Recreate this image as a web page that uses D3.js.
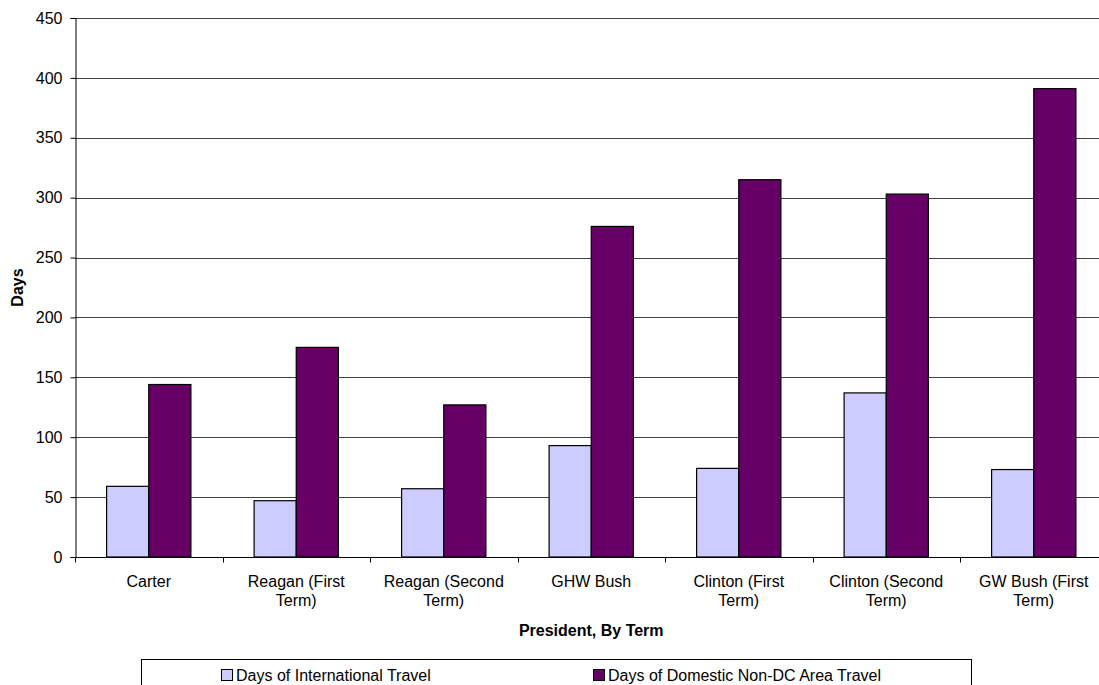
<!DOCTYPE html>
<html><head><meta charset="utf-8">
<script src="https://cdn.jsdelivr.net/npm/d3@7"></script>
<style>body{margin:0;background:#fff;}svg{display:block;font-family:"Liberation Sans",Arial,sans-serif;}</style>
</head><body>
<svg id="c" width="1099" height="685"></svg>
<script>
const categories = [["Carter"],["Reagan (First","Term)"],["Reagan (Second","Term)"],["GHW Bush"],["Clinton (First","Term)"],["Clinton (Second","Term)"],["GW Bush (First","Term)"]];
const international = [59, 47, 57, 93, 74, 137, 73];
const domestic = [144, 175, 127, 276, 315, 303, 391];
const seriesNames = ["Days of International Travel", "Days of Domestic Non-DC Area Travel"];
const colors = ["#ccccff", "#660066"];
const yTicks = [0,50,100,150,200,250,300,350,400,450];

const svg = d3.select("#c");
const L = 75, R = 1107.5, T = 18, B = 557;
const idx = d3.range(categories.length);
const x = d3.scaleBand().domain(idx).range([L, R]).paddingInner(0).paddingOuter(0);
const y = d3.scaleLinear().domain([0, 450]).range([B, T]);
const bw = x.bandwidth() / 3.5;

// gridlines
svg.append("g").selectAll("line").data(yTicks.filter(d=>d>0)).join("line")
  .attr("x1", L).attr("x2", R).attr("y1", d=>Math.round(y(d))+0.5).attr("y2", d=>Math.round(y(d))+0.5)
  .attr("stroke", "#404040").attr("stroke-width", 1);

// bars
const seriesData = [international, domestic];
seriesData.forEach((vals, s) => {
  svg.append("g").selectAll("rect").data(vals).join("rect")
    .attr("x", (d,i) => x(i) + bw*0.75 + s*bw)
    .attr("y", d => y(d))
    .attr("width", bw)
    .attr("height", d => B - y(d))
    .attr("fill", colors[s]).attr("stroke", "#000").attr("stroke-width", 1.2);
});

// y axis
const ya = svg.append("g").attr("transform", `translate(${L+0.5},0)`)
  .call(d3.axisLeft(y).tickValues(yTicks).tickSize(5).tickPadding(8));
ya.selectAll("text").attr("font-size", 16).attr("fill", "#000").attr("font-family", "Liberation Sans, Arial");
ya.selectAll("line,path").attr("stroke", "#000");

// x axis
const xa = svg.append("g").attr("transform", `translate(0,${B+0.5})`);
xa.append("line").attr("x1", L).attr("x2", R).attr("stroke", "#000");
xa.selectAll("line.t").data(d3.range(categories.length+1)).join("line").attr("class","t")
  .attr("x1", i => Math.round(L + i*x.bandwidth())+0.5).attr("x2", i => Math.round(L + i*x.bandwidth())+0.5)
  .attr("y1", 0).attr("y2", 5).attr("stroke", "#000");
const lab = svg.append("g").selectAll("text").data(idx).join("text")
  .attr("x", i => x(i) + x.bandwidth()/2).attr("y", 587)
  .attr("text-anchor", "middle").attr("font-size", 16).attr("fill", "#000");
lab.selectAll("tspan").data(i => categories[i].map((t,k)=>({t,k,i}))).join("tspan")
  .attr("x", d => x(d.i) + x.bandwidth()/2).attr("dy", d => d.k ? 19 : 0).text(d => d.t);

// axis titles
svg.append("text").attr("x", (L+R)/2).attr("y", 636).attr("text-anchor","middle")
  .attr("font-size", 16).attr("font-weight","bold").text("President, By Term");
svg.append("text").attr("transform", `translate(23,${(T+B)/2}) rotate(-90)`).attr("text-anchor","middle")
  .attr("font-size", 16).attr("font-weight","bold").text("Days");

// legend
svg.append("rect").attr("x", 141.5).attr("y", 659.5).attr("width", 830).attr("height", 40)
  .attr("fill", "#fff").attr("stroke", "#000");
const legX = [221, 593];
seriesNames.forEach((n, s) => {
  svg.append("rect").attr("x", legX[s]+0.5).attr("y", 669.5).attr("width", 11).attr("height", 11)
    .attr("fill", colors[s]).attr("stroke", "#000");
  svg.append("text").attr("x", legX[s] + 15).attr("y", 680.5).attr("font-size", 16).text(n);
});
</script>
</body></html>
